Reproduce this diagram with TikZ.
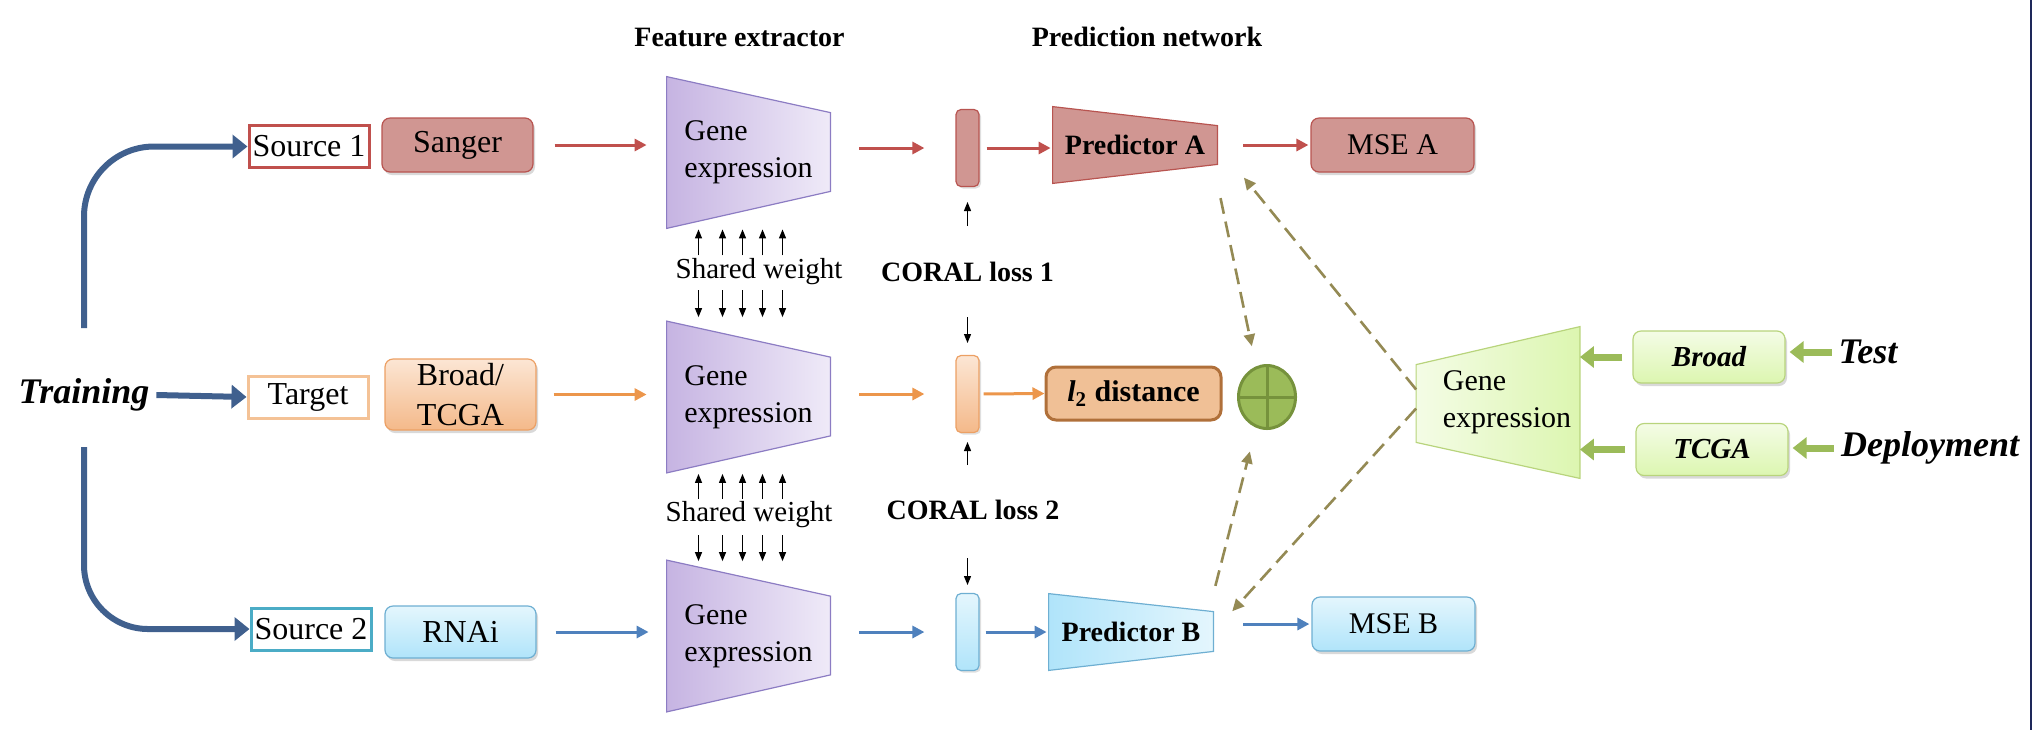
\documentclass[tikz,border=0pt]{standalone}
\usepackage{fontspec}
\setmainfont{Liberation Serif}
\usepackage{tikz}
\usetikzlibrary{arrows.meta,shadows,backgrounds,shapes.geometric}

\definecolor{redfill}{RGB}{208,150,146}
\definecolor{redline}{RGB}{184,84,80}
\definecolor{redarr}{RGB}{192,80,77}
\definecolor{orgtop}{RGB}{252,230,212}
\definecolor{orgbot}{RGB}{244,185,138}
\definecolor{orgline}{RGB}{236,160,100}
\definecolor{orgarr}{RGB}{236,150,75}
\definecolor{orgbox}{RGB}{244,194,150}
\definecolor{bluetop}{RGB}{228,246,253}
\definecolor{bluebot}{RGB}{176,228,250}
\definecolor{blueline}{RGB}{110,175,210}
\definecolor{bluearr}{RGB}{79,129,189}
\definecolor{cyanline}{RGB}{75,172,198}
\definecolor{navy}{RGB}{64,96,142}
\definecolor{purpl}{RGB}{198,180,226}
\definecolor{purpr}{RGB}{239,234,248}
\definecolor{purpline}{RGB}{140,124,195}
\definecolor{grntop}{RGB}{244,252,230}
\definecolor{grnbot}{RGB}{220,246,176}
\definecolor{grnline}{RGB}{184,212,124}
\definecolor{grnarr}{RGB}{155,187,89}
\definecolor{grndark}{RGB}{118,146,60}
\definecolor{olive}{RGB}{148,138,84}
\definecolor{l2fill}{RGB}{240,192,150}
\definecolor{l2line}{RGB}{176,112,58}
\definecolor{framecol}{RGB}{30,40,90}

\begin{document}
\begin{tikzpicture}[x=0.5pt,y=-0.5pt,
  head/.style={font=\fontsize{14}{17}\selectfont\bfseries},
  italbig/.style={font=\fontsize{18}{21}\selectfont\bfseries\itshape},
  box/.style={rounded corners=4pt, inner sep=0pt, minimum width=75.5pt, minimum height=27pt, line width=0.6pt, align=center, font=\fontsize{16}{20}\selectfont, drop shadow={shadow xshift=1pt,shadow yshift=-1.5pt,opacity=.3}},
  outbox/.style={box, minimum width=81.5pt, font=\fontsize{15}{18}\selectfont},
  srcbox/.style={line width=1.5pt, fill=white, inner sep=0pt, minimum width=60pt, minimum height=21pt, font=\fontsize{16}{20}\selectfont},
  ge/.style={inner sep=0pt, minimum width=81.5pt, minimum height=75.5pt, align=left, font=\fontsize{15}{18.5}\selectfont},
  geshape/.style={draw=purpline, left color=purpl, right color=purpr, line width=0.6pt},
  bar/.style={rounded corners=2.5pt, inner sep=0pt, minimum width=11.5pt, minimum height=38.5pt, line width=0.6pt, drop shadow={shadow xshift=1pt,shadow yshift=-1pt,opacity=.25}},
  pred/.style={inner sep=0pt, minimum width=82pt, minimum height=38pt, font=\fontsize{14}{17}\selectfont\bfseries},
  l2box/.style={draw=l2line, fill=l2fill, line width=1.5pt, rounded corners=5pt, inner sep=0pt, minimum width=87.5pt, minimum height=26.5pt, font=\fontsize{15}{18}\selectfont\bfseries},
  gbox/.style={box, top color=grntop, bottom color=grnbot, draw=grnline, minimum width=76pt, minimum height=26pt, font=\fontsize{14.5}{17}\selectfont\bfseries\itshape},
  coral/.style={font=\fontsize{14}{17}\selectfont\bfseries},
  shw/.style={font=\fontsize{14.5}{17}\selectfont},
  flow/.style={line width=1.5pt, -{Triangle[length=6pt,width=6pt]}},
  wt/.style={line width=0.6pt, -{Triangle[length=4.5pt,width=3.5pt]}},
  train/.style={navy, line width=3pt, -{Triangle[length=7.5pt,width=11.5pt]}},
  feed/.style={grnarr, line width=3.5pt, -{Triangle[length=7pt,width=10.5pt]}},
  dasharr/.style={olive, line width=1.3pt, dash pattern=on 8pt off 4pt, -{Triangle[length=6pt,width=5.5pt]}}]
\useasboundingbox (0,0) rectangle (2032,730);

% Headers
\node[head] (fehead) at (739.5,37) {Feature extractor};
\node[head] (pnhead) at (1147,37) {Prediction network};

% Training inputs
\node[italbig] (training) at (84,395) {Training};
\coordinate (trainup) at (84,328);
\coordinate (trainlo) at (84,447);
\node[srcbox, draw=redarr] (src1) at (309,146.5) {Source 1};
\node[box, fill=redfill, draw=redline] (sanger) at (457.5,145) {Sanger};
\node[srcbox, draw=orgbox] (tgt) at (308,397) {Target};
\node[box, top color=orgtop, bottom color=orgbot, draw=orgline, minimum height=35.5pt] (brtc) at (460.5,394.5) {Broad/\\TCGA};
\node[srcbox, draw=cyanline] (src2) at (311,629) {Source 2};
\node[box, top color=bluetop, bottom color=bluebot, draw=blueline, minimum height=26pt] (rnai) at (460.5,632) {RNAi};

% Feature extractors
\node[ge] (ge1) at (748.5,152.5) {Gene\\expression};
\node[ge] (ge2) at (748.5,397) {Gene\\expression};
\node[ge] (ge3) at (748.5,636) {Gene\\expression};
\node[shw] (sw1) at (759,272) {Shared weight};
\node[shw] (sw2) at (749,515) {Shared weight};

% Features
\node[bar, fill=redfill, draw=redline] (bar1) at (967.5,148) {};
\node[bar, top color=orgtop, bottom color=orgbot, draw=orgline] (bar2) at (967.5,394) {};
\node[bar, top color=bluetop, bottom color=bluebot, draw=blueline] (bar3) at (967.5,632) {};
\node[coral] (coral1) at (967.5,272) {CORAL loss 1};
\node[coral] (coral2) at (973,510) {CORAL loss 2};

% Prediction network
\node[pred] (predA) at (1135,145) {Predictor A};
\node[pred] (predB) at (1131,632) {Predictor B};
\node[l2box] (l2) at (1133.5,393.5) {\textit{l}\textsubscript{2} distance};
\node[ellipse, draw=grndark, fill=grnarr, line width=1.5pt, inner sep=0pt, outer sep=0pt, minimum width=28.5pt, minimum height=31.5pt] (oplus) at (1267,397) {};
\draw[grndark, line width=1.5pt] (oplus.north) -- (oplus.south) (oplus.west) -- (oplus.east);
\node[outbox, fill=redfill, draw=redline] (mseA) at (1392.5,145) {MSE A};
\node[outbox, top color=bluetop, bottom color=bluebot, draw=blueline] (mseB) at (1393.5,624) {MSE B};

% Test / deployment
\node[ge] (geT) at (1498,402.5) {};
\node[ge] (geTtxt) at (1507,402.5) {Gene\\expression};
\node[gbox] (broad) at (1709,357) {Broad};
\node[gbox] (tcga) at (1712,449.5) {TCGA};
\node[italbig] (testlbl) at (1868,352) {Test};
\node[italbig] (deploy) at (1930,448) {Deployment};

% Trapezoid shapes
\begin{scope}[on background layer]
\foreach \g in {ge1,ge2,ge3}
  \draw[geshape] (\g.north west) -- ([yshift=-18pt]\g.north east) -- ([yshift=18.5pt]\g.south east) -- (\g.south west) -- cycle;
\draw[fill=redfill, draw=redline, line width=0.6pt] (predA.north west) -- ([yshift=-9.5pt]predA.north east) -- ([yshift=9.5pt]predA.south east) -- (predA.south west) -- cycle;
\draw[left color=bluebot, right color=bluetop, draw=blueline, line width=0.6pt] (predB.north west) -- ([yshift=-9pt]predB.north east) -- ([yshift=9.5pt]predB.south east) -- (predB.south west) -- cycle;
\draw[left color=grntop, right color=grnbot, draw=grnline, line width=0.6pt] ([yshift=-19pt]geT.north west) -- (geT.north east) -- (geT.south east) -- ([yshift=18pt]geT.south west) -- cycle;
\end{scope}

% Training arrows
\draw[train, rounded corners=35pt] (trainup) |- (src1.west);
\draw[train, rounded corners=32pt] (trainlo) |- (src2.west);
\draw[train] (training.east) -- (tgt.west);

% Source 1 row
\draw[flow, redarr, shorten <=10.5pt, shorten >=10pt] (sanger.east) -- (sanger.east -| ge1.west);
\draw[flow, redarr, shorten <=14.5pt, shorten >=15.5pt] (ge1.east |- bar1.west) -- (bar1.west);
\draw[flow, redarr, shorten <=3.5pt, shorten >=1pt] (bar1.east) -- (bar1.east -| predA.west);
\draw[flow, redarr, shorten <=13pt, shorten >=1pt] (predA.east) -- (mseA.west);
% Target row
\draw[flow, orgarr, shorten <=8.5pt, shorten >=10pt] (brtc.east) -- (brtc.east -| ge2.west);
\draw[flow, orgarr, shorten <=14.5pt, shorten >=15.5pt] (ge2.east |- bar2.west) -- (bar2.west);
\draw[flow, orgarr, shorten <=2pt] (bar2.east) -- (l2.west);
% Source 2 row
\draw[flow, bluearr, shorten <=9.5pt, shorten >=9pt] (rnai.east) -- (rnai.east -| ge3.west);
\draw[flow, bluearr, shorten <=14.5pt, shorten >=15.5pt] (ge3.east |- bar3.west) -- (bar3.west);
\draw[flow, bluearr, shorten <=3pt, shorten >=1pt] (bar3.east) -- (bar3.east -| predB.west);
\draw[flow, bluearr, shorten <=15pt, shorten >=1pt] (predB.east |- mseB.west) -- (mseB.west);

% Shared weights
\foreach \dx in {-25,-13,-3,7,17} {
  \draw[wt] ([xshift=\dx pt]ge1.south) ++(0,27) -- ++(0,-26);
  \draw[wt] ([xshift=\dx pt]ge2.north) ++(0,-31) -- ++(0,27);
  \draw[wt] ([xshift=\dx pt]ge2.south) ++(0,26) -- ++(0,-25);
  \draw[wt] ([xshift=\dx pt]ge3.north) ++(0,-25) -- ++(0,26);
}

% CORAL losses
\draw[wt, shorten <=23pt, shorten >=27pt] (coral1.center) -- (bar1.center);
\draw[wt, shorten <=22.5pt, shorten >=25.5pt] (coral1.center) -- (bar2.center);
\draw[wt, shorten <=22.5pt, shorten >=24pt] (coral2.center -| bar2.center) -- (bar2.center);
\draw[wt, shorten <=24pt, shorten >=23.5pt] (coral2.center -| bar3.center) -- (bar3.center);

% Combination and deployment
\draw[dasharr, shorten <=7.5pt, shorten >=11pt] (predA.south east) -- (oplus.110);
\draw[dasharr, shorten <=4pt, shorten >=13pt] (predB.north east) -- (oplus.250);
\draw[dasharr, shorten >=21pt] ([yshift=6.5pt]geT.west) -- (predA.east);
\draw[dasharr, shorten >=14pt] ([yshift=-3pt]geT.west) -- (predB.east);
\draw[feed, shorten <=5pt] (broad.west) -- (broad.west -| geT.east);
\draw[feed, shorten <=5pt] (tcga.west) -- (tcga.west -| geT.east);
\draw[feed, shorten >=2pt] (testlbl.west) -- (testlbl.west -| broad.east);
\draw[feed, shorten >=2pt] (deploy.west) -- (deploy.west -| tcga.east);

\draw[framecol, line width=0.6pt] (2031,0) -- (2031,730);

\end{tikzpicture}
\end{document}
